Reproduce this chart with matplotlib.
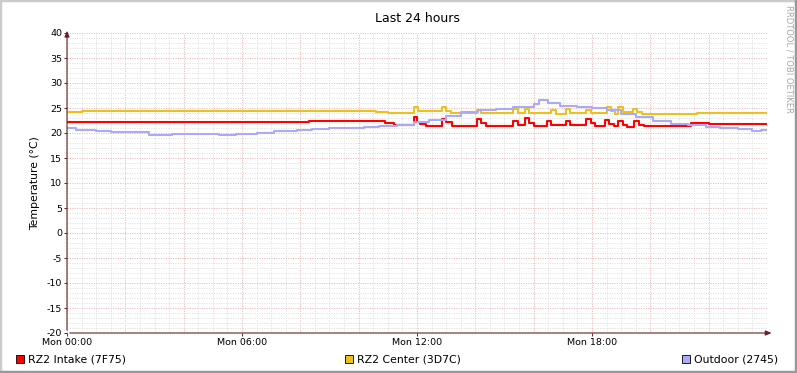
import numpy as np
import matplotlib
matplotlib.use("Agg")
from matplotlib import pyplot as plt
from matplotlib.patches import Rectangle

# hours since Mon 00:00 / value (degC), step breakpoints
intake_t = [0, 8.3, 10.9, 11.2, 11.9, 12.0, 12.1, 12.3, 12.85, 13.0, 13.2, 14.05, 14.2, 14.35,
            15.3, 15.45, 15.7, 15.85, 16.0, 16.45, 16.6, 17.1, 17.25, 17.8, 17.95, 18.1,
            18.45, 18.6, 18.75, 18.9, 19.05, 19.2, 19.45, 19.6, 19.8, 21.4, 22.0, 24.0]
intake_v = [22.2, 22.5, 22.0, 21.7, 23.2, 22.3, 21.8, 21.5, 22.9, 22.2, 21.4, 22.9, 22.0, 21.4,
            22.4, 21.6, 23.0, 22.1, 21.5, 22.4, 21.6, 22.5, 21.7, 22.8, 22.0, 21.5,
            22.7, 21.9, 21.4, 22.5, 21.7, 21.3, 22.4, 21.7, 21.5, 22.0, 21.9, 22.0]

center_t = [0, 0.5, 10.6, 11.0, 11.9, 12.05, 12.85, 13.0, 13.15, 14.05, 14.2, 15.3, 15.45,
            15.7, 15.85, 16.6, 16.75, 17.1, 17.25, 17.8, 17.95, 18.5, 18.65, 18.8, 18.9,
            19.05, 19.4, 19.55, 19.7, 21.6, 24.0]
center_v = [24.2, 24.5, 24.2, 24.0, 25.2, 24.4, 25.2, 24.5, 24.0, 24.7, 24.1, 24.9, 24.1,
            24.9, 24.0, 24.6, 23.9, 24.9, 24.0, 24.7, 24.1, 25.2, 24.4, 23.9, 25.2,
            24.3, 24.8, 24.2, 23.9, 24.1, 24.2]

outdoor_t = [0, 0.3, 1.0, 1.5, 2.8, 3.6, 4.5, 5.2, 5.8, 6.5, 7.1, 7.9, 8.4, 9.0, 9.6, 10.2,
             10.7, 11.3, 11.9, 12.4, 13.0, 13.5, 14.1, 14.7, 15.3, 16.0, 16.2, 16.5, 16.9,
             17.5, 18.0, 18.5, 19.0, 19.5, 20.1, 20.7, 21.3, 21.9, 22.4, 23.0, 23.5, 23.8, 24.0]
outdoor_v = [21.1, 20.7, 20.5, 20.2, 19.7, 19.9, 19.8, 19.7, 19.9, 20.0, 20.4, 20.7, 20.9,
             21.0, 21.1, 21.3, 21.4, 21.7, 22.2, 22.7, 23.5, 24.2, 24.7, 24.9, 25.2, 25.9,
             26.6, 26.0, 25.5, 25.3, 25.1, 24.6, 23.9, 23.3, 22.5, 21.9, 21.6, 21.2, 21.0,
             20.9, 20.5, 20.6, 20.6]

series = [("RZ2 Intake (7F75)", intake_t, intake_v, "#ff0000"),
          ("RZ2 Center (3D7C)", center_t, center_v, "#eac11f"),
          ("Outdoor (2745)", outdoor_t, outdoor_v, "#aaaaf8")]

xticks = [0, 6, 12, 18]
xlabels = ["Mon 00:00", "Mon 06:00", "Mon 12:00", "Mon 18:00"]
yticks = list(range(-20, 45, 5))

W, H = 797, 373
fig = plt.figure(figsize=(W / 100, H / 100), dpi=100)
fig.patch.set_facecolor("white")
ax = fig.add_axes([67 / W, 1 - 333 / H, 700 / W, 300 / H])
ax.set_xlim(0, 24)
ax.set_ylim(-20, 40)
for s in ax.spines.values():
    s.set_visible(False)

dot = (0, (1, 1.4))
for x in np.arange(0, 24.01, 0.5):
    major = abs(x / 2 - round(x / 2)) < 1e-6
    ax.axvline(x, color="#eab4b4" if major else "#dedede", lw=0.72, ls=dot, zorder=1)
for y in range(-20, 41):
    ax.axhline(y, color="#eab4b4" if y % 5 == 0 else "#dedede", lw=0.72, ls=dot, zorder=1)

for name, t, v, c in series:
    ax.plot(t, v, drawstyle="steps-post", color=c, lw=1.5, zorder=3, solid_capstyle="butt")

# axes with arrows
ax.annotate("", xy=(24.25, -20), xytext=(0, -20), annotation_clip=False,
            arrowprops=dict(arrowstyle="-|>,head_length=0.35,head_width=0.15", color="#6b2020", lw=0.8))
ax.annotate("", xy=(0, 41.0), xytext=(0, -20), annotation_clip=False,
            arrowprops=dict(arrowstyle="-|>,head_length=0.35,head_width=0.15", color="#6b2020", lw=0.8))

ax.set_xticks(xticks)
ax.set_xticklabels(xlabels, fontsize=6.8)
ax.set_yticks(yticks)
ax.set_yticklabels([str(y) for y in yticks], fontsize=6.8)
ax.tick_params(length=2, width=0.7, color="#6b2020", pad=1.5)
ax.set_ylabel("Temperature (°C)", fontsize=7.8, labelpad=5)
ax.set_title("Last 24 hours", fontsize=9, pad=8)

fig.text(789 / W, 1 - 5 / H, "RRDTOOL / TOBI OETIKER", rotation=270, fontsize=6,
         color="#a8a8a8", ha="center", va="top")

# legend
legend_x = [16, 345, 682]
for (name, t, v, c), lx in zip(series, legend_x):
    fig.patches.append(Rectangle((lx / W, 1 - 363 / H), 8 / W, 8 / H, transform=fig.transFigure,
                                 facecolor=c, edgecolor="black", lw=0.6))
    fig.text((lx + 12) / W, 1 - 359 / H, name, fontsize=7.8, va="center", ha="left")

# frame shading
fig.patches.append(Rectangle((0, 0), 1, 1, transform=fig.transFigure, fill=False,
                             edgecolor="#cbcbcb", lw=2.5))
fig.add_artist(plt.Line2D([0, 1], [0.002, 0.002], transform=fig.transFigure, color="#999999", lw=2.5))
fig.add_artist(plt.Line2D([0.9985, 0.9985], [0, 1], transform=fig.transFigure, color="#999999", lw=2.5))

fig.savefig("out.png", dpi=100)
